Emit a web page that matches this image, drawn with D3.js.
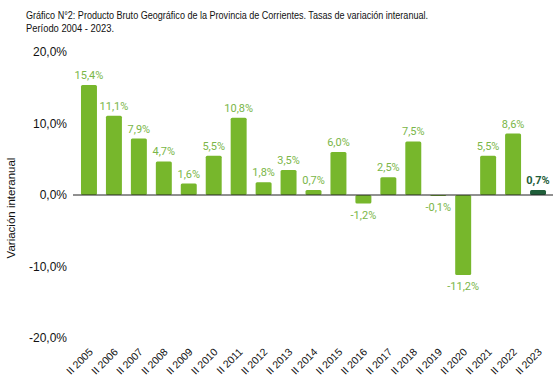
<!DOCTYPE html>
<html>
<head>
<meta charset="utf-8">
<script src="https://cdn.jsdelivr.net/npm/d3@7"></script>
<style>
    body { margin: 0; background: #fff; }
    svg { display: block; }
</style>
</head>
<body>
<svg id="chart" width="560" height="388"></svg>
<script>
// data
var years = ["II 2005", "II 2006", "II 2007", "II 2008", "II 2009", "II 2010", "II 2011", "II 2012", "II 2013", "II 2014",
             "II 2015", "II 2016", "II 2017", "II 2018", "II 2019", "II 2020", "II 2021", "II 2022", "II 2023"];
var rates = [15.4, 11.1, 7.9, 4.7, 1.6, 5.5, 10.8, 1.8, 3.5, 0.7, 6.0, -1.2, 2.5, 7.5, -0.1, -11.2, 5.5, 8.6, 0.7];
var y_ticks = [20, 10, 0, -10, -20];

var svg = d3.select("#chart");
var fmt = function(v) { return v.toFixed(1).replace(".", ",") + "%"; };

// scales
var xScale = d3.scaleBand()
    .domain(years)
    .range([76.5, 550.5])
    .paddingInner(0.36)
    .paddingOuter(0.18);

var yScale = d3.scaleLinear()
    .domain([-20, 20])
    .range([338, 52]);

// titles
svg.append("text")
    .attr("x", 26)
    .attr("y", 19)
    .attr("font-family", "'Liberation Sans', Arial, sans-serif")
    .attr("font-size", "10px")
    .attr("fill", "#111")
    .attr("textLength", 402)
    .attr("lengthAdjust", "spacingAndGlyphs")
    .text("Gráfico N°2: Producto Bruto Geográfico de la Provincia de Corrientes. Tasas de variación interanual.");
svg.append("text")
    .attr("x", 26)
    .attr("y", 32)
    .attr("font-family", "'Liberation Sans', Arial, sans-serif")
    .attr("font-size", "10px")
    .attr("fill", "#111")
    .attr("textLength", 88)
    .attr("lengthAdjust", "spacingAndGlyphs")
    .text("Período 2004 - 2023.");

// y axis (labels only)
var yAxis = d3.axisLeft(yScale)
    .tickValues(y_ticks)
    .tickSize(0)
    .tickPadding(0)
    .tickFormat(fmt);

var gy = svg.append("g")
    .attr("transform", "translate(67,0)")
    .call(yAxis);
gy.select(".domain").remove();
gy.selectAll("text")
    .attr("font-family", "'Liberation Sans', Arial, sans-serif")
    .attr("font-size", "12px")
    .attr("fill", "#111");

svg.append("text")
    .attr("transform", "translate(15,208) rotate(-90)")
    .attr("text-anchor", "middle")
    .attr("font-family", "'Liberation Sans', Arial, sans-serif")
    .attr("font-size", "11.5px")
    .attr("fill", "#111")
    .text("Variación interanual");

// bars
var last = years.length - 1;
svg.append("g").selectAll("rect")
    .data(rates)
    .join("rect")
    .attr("x", function(d, i) { return xScale(years[i]); })
    .attr("y", function(d) { return yScale(Math.max(0, d)); })
    .attr("width", xScale.bandwidth())
    .attr("height", function(d) { return Math.max(1, Math.abs(yScale(d) - yScale(0))); })
    .attr("rx", 1.5)
    .attr("fill", function(d, i) { return i === last ? "#1f5e3a" : "#77b72c"; });

// zero line
svg.append("line")
    .attr("x1", 73)
    .attr("x2", 553)
    .attr("y1", yScale(0))
    .attr("y2", yScale(0))
    .attr("stroke", "#222")
    .attr("stroke-width", 1.2);

// value labels
svg.append("g").selectAll("text")
    .data(rates)
    .join("text")
    .attr("x", function(d, i) { return xScale(years[i]) + xScale.bandwidth() / 2; })
    .attr("y", function(d) { return d >= 0 ? yScale(d) - 6 : yScale(d) + 15; })
    .attr("text-anchor", "middle")
    .attr("font-family", "Roboto, sans-serif")
    .attr("font-size", "11px")
    .attr("font-weight", function(d, i) { return i === last ? "bold" : "normal"; })
    .attr("fill", function(d, i) { return i === last ? "#1f5e3a" : "#7ab648"; })
    .text(fmt);

// x axis labels
var xAxis = d3.axisBottom(xScale).tickSize(0).tickPadding(0);
var gx = svg.append("g")
    .attr("transform", "translate(0,350)")
    .call(xAxis);
gx.select(".domain").remove();
gx.selectAll("text")
    .attr("font-family", "'Liberation Sans', Arial, sans-serif")
    .attr("font-size", "10.5px")
    .attr("fill", "#111")
    .attr("text-anchor", "end")
    .attr("dy", "0.35em")
    .attr("transform", "translate(2,0) rotate(-45)");
</script>
</body>
</html>
